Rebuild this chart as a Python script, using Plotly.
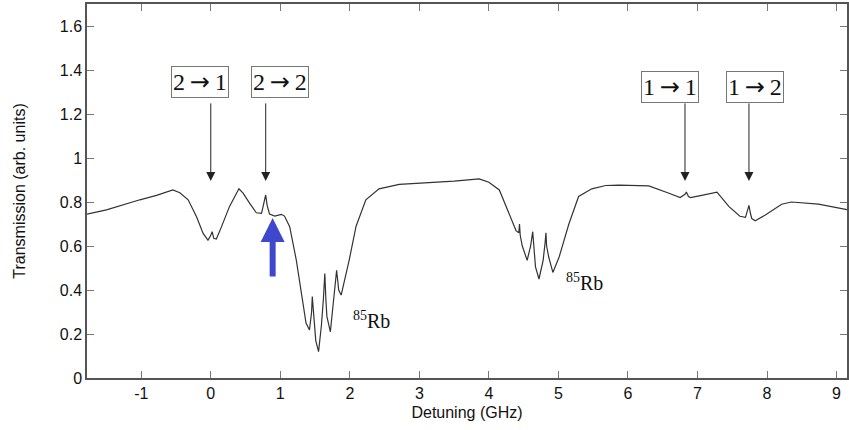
import plotly.graph_objects as go

# Measured transmission trace (detuning in GHz, transmission in arb. units)
detuning = [
    -1.78, -1.50, -1.02, -0.78, -0.545, -0.445, -0.325, -0.205, -0.11, -0.04,
    -0.005, 0.02, 0.043, 0.08, 0.155, 0.27, 0.405, 0.465, 0.56, 0.655,
    0.73, 0.765, 0.79, 0.81, 0.845, 0.92, 1.015, 1.06, 1.135, 1.23,
    1.30, 1.37, 1.42, 1.45, 1.46, 1.48, 1.51, 1.55, 1.59, 1.62,
    1.64, 1.655, 1.67, 1.72, 1.78, 1.81, 1.84, 1.875, 1.99, 2.09,
    2.23, 2.42, 2.71, 3.00, 3.50, 3.86, 4.00, 4.15, 4.29, 4.39,
    4.43, 4.44, 4.45, 4.48, 4.55, 4.60, 4.63, 4.65, 4.67, 4.72,
    4.78, 4.81, 4.82, 4.83, 4.86, 4.92, 5.01, 5.15, 5.29, 5.48,
    5.68, 5.87, 6.30, 6.59, 6.75, 6.82, 6.84, 6.87, 6.90, 7.06,
    7.28, 7.45, 7.61, 7.69, 7.72, 7.74, 7.76, 7.78, 7.83, 7.97,
    8.21, 8.35, 8.74, 9.15,
]
transmission = [
    0.745, 0.764, 0.810, 0.830, 0.855, 0.842, 0.810, 0.733, 0.657, 0.627,
    0.645, 0.665, 0.635, 0.632, 0.688, 0.780, 0.860, 0.840, 0.794, 0.751,
    0.748, 0.794, 0.832, 0.786, 0.745, 0.736, 0.744, 0.736, 0.688, 0.536,
    0.385, 0.250, 0.218, 0.300, 0.370, 0.280, 0.170, 0.120, 0.235, 0.360,
    0.475, 0.360, 0.280, 0.210, 0.385, 0.490, 0.400, 0.377, 0.535, 0.690,
    0.810, 0.860, 0.880, 0.885, 0.895, 0.905, 0.890, 0.855, 0.750, 0.670,
    0.660, 0.700, 0.650, 0.600, 0.535, 0.600, 0.665, 0.580, 0.505, 0.450,
    0.535, 0.620, 0.660, 0.600, 0.550, 0.480, 0.550, 0.700, 0.825, 0.860,
    0.875, 0.877, 0.873, 0.840, 0.820, 0.835, 0.845, 0.825, 0.820, 0.830,
    0.845, 0.780, 0.735, 0.730, 0.770, 0.785, 0.750, 0.725, 0.715, 0.740,
    0.790, 0.800, 0.790, 0.765,
]

# Hyperfine transitions: lower level, upper level, arrow position (GHz), label box centre
lower_level = ["2", "2", "1", "1"]
upper_level = ["1", "2", "1", "2"]
transition_pos = [0.0, 0.79, 6.82, 7.74]
label_pos = [-0.15, 0.99, 6.61, 7.82]
label_y = [1.345, 1.345, 1.323, 1.323]

# Isotope labels
iso_text = ["<sup>85</sup>Rb", "<sup>85</sup>Rb"]
iso_x = [2.31, 5.38]
iso_y = [0.262, 0.436]

x_ticks = [-1, 0, 1, 2, 3, 4, 5, 6, 7, 8, 9]
x_ticktext = ["-1", "0", "1", "2", "3", "4", "5", "6", "7", "8", "9"]
y_ticks = [0, 0.2, 0.4, 0.6, 0.8, 1.0, 1.2, 1.4, 1.6]
y_ticktext = ["0", "0.2", "0.4", "0.6", "0.8", "1", "1.2", "1.4", "1.6"]

fig = go.Figure()
fig.add_trace(go.Scatter(
    x=detuning, y=transmission, mode="lines",
    line=dict(color="#333333", width=1.2),
    showlegend=False, hoverinfo="skip",
))

annotations = []
for lo, up, xp, lx, ly in zip(lower_level, upper_level, transition_pos, label_pos, label_y):
    lbl = lo + "<span style='font-family:DejaVu Sans'>\u2009→\u2009</span>" + up
    annotations.append(dict(
        x=lx, y=ly, xref="x", yref="y", text=lbl, showarrow=False,
        font=dict(family="Liberation Serif", size=24, color="#111111"),
        bordercolor="#777777", borderwidth=1, borderpad=1, bgcolor="white",
    ))
    annotations.append(dict(
        x=xp, y=0.895, ax=xp, ay=1.255, xref="x", yref="y", axref="x", ayref="y",
        text="", showarrow=True, arrowhead=2, arrowsize=1.8, arrowwidth=1,
        arrowcolor="#222222",
    ))

for t, xx, yy in zip(iso_text, iso_x, iso_y):
    annotations.append(dict(
        x=xx, y=yy, xref="x", yref="y", text=t, showarrow=False,
        font=dict(family="Liberation Serif", size=20, color="#111111"),
    ))

# Blue pointer below the 2→2 feature
annotations.append(dict(
    x=0.89, y=0.727, ax=0.89, ay=0.455, xref="x", yref="y", axref="x", ayref="y",
    text="", showarrow=True, arrowhead=2, arrowsize=0.8, arrowwidth=6,
    arrowcolor="#3F48CC",
))

axis_common = dict(
    showline=True, linecolor="#555555", linewidth=1.5, mirror="ticks",
    ticks="inside", ticklen=7, tickcolor="#777777", tickwidth=1,
    showgrid=False, zeroline=False,
    tickfont=dict(family="Liberation Sans", size=16, color="#111111"),
)

fig.update_layout(
    width=849, height=430,
    margin=dict(l=87, r=0, t=4, b=52),
    paper_bgcolor="white", plot_bgcolor="white",
    xaxis=dict(
        range=[-1.78, 9.15], tickvals=x_ticks, ticktext=x_ticktext,
        title=dict(text="Detuning (GHz)", standoff=6,
                   font=dict(family="Liberation Sans", size=16, color="#111111")),
        **axis_common,
    ),
    yaxis=dict(
        range=[0, 1.7], tickvals=y_ticks, ticktext=y_ticktext,
        title=dict(text="Transmission (arb. units)", standoff=30,
                   font=dict(family="Liberation Sans", size=16, color="#111111")),
        **axis_common,
    ),
    annotations=annotations,
)

fig.write_html("out.html")
